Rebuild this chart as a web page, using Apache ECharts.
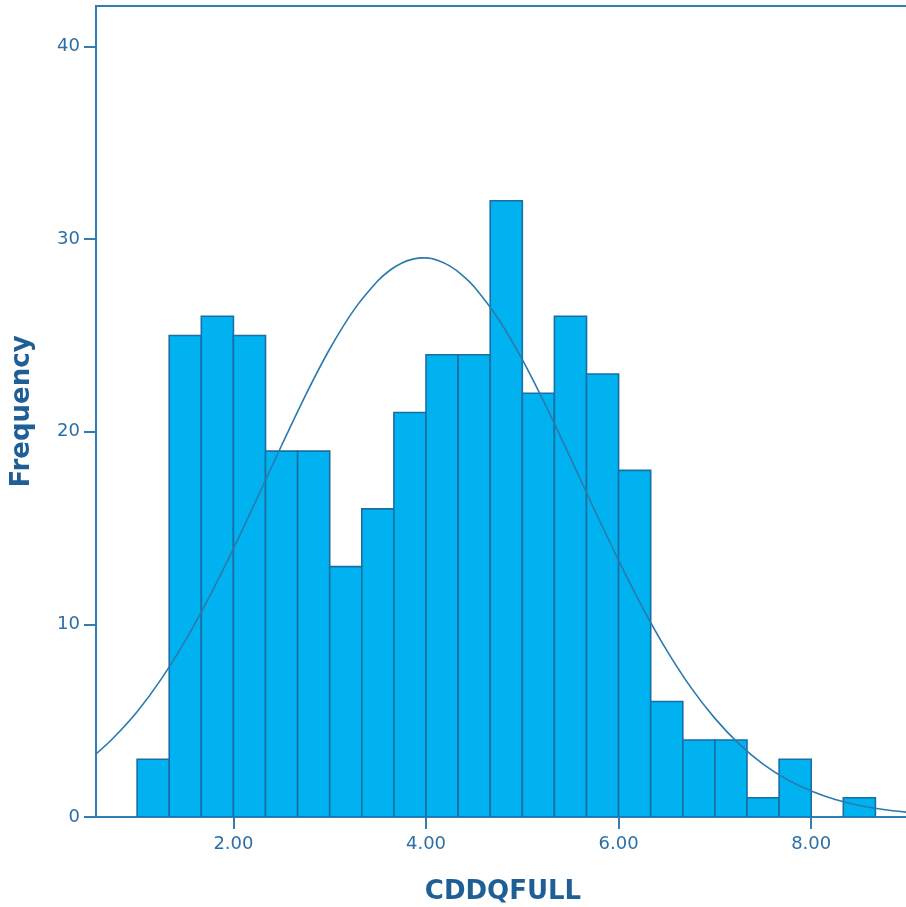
<!DOCTYPE html>
<html>
<head>
<meta charset="utf-8">
<script src="https://cdn.jsdelivr.net/npm/echarts@6/dist/echarts.min.js"></script>
<style>
html,body{margin:0;padding:0;background:#fff;}
#chart{width:906px;height:907px;}
</style>
</head>
<body>
<div id="chart"></div>
<script>
// Histogram bins (lower edge, upper edge) and frequencies
const binStarts = [1.0, 1.3333, 1.6667, 2.0, 2.3333, 2.6667, 3.0, 3.3333, 3.6667, 4.0, 4.3333, 4.6667, 5.0, 5.3333, 5.6667, 6.0, 6.3333, 6.6667, 7.0, 7.3333, 7.6667, 8.0, 8.3333];
const binEnds   = [1.3333, 1.6667, 2.0, 2.3333, 2.6667, 3.0, 3.3333, 3.6667, 4.0, 4.3333, 4.6667, 5.0, 5.3333, 5.6667, 6.0, 6.3333, 6.6667, 7.0, 7.3333, 7.6667, 8.0, 8.3333, 8.6667];
const frequencies = [3, 25, 26, 25, 19, 19, 13, 16, 21, 24, 24, 32, 22, 26, 23, 18, 6, 4, 4, 1, 3, 0, 1];

// Normal curve points
const curveX = [0.573, 0.75, 1.0, 1.25, 1.5, 1.75, 2.0, 2.25, 2.5, 2.75, 3.0, 3.25, 3.5, 3.625, 3.75, 3.875, 3.97, 4.0, 4.125, 4.25, 4.375, 4.5, 4.75, 5.0, 5.25, 5.5, 5.75, 6.0, 6.25, 6.5, 6.75, 7.0, 7.25, 7.5, 7.75, 8.0, 8.25, 8.5, 8.75, 9.03];
const curveY = [3.27, 4.09, 5.47, 7.16, 9.16, 11.43, 13.93, 16.59, 19.29, 21.91, 24.30, 26.32, 27.84, 28.39, 28.77, 28.98, 29.03, 29.03, 28.90, 28.60, 28.14, 27.53, 25.87, 23.75, 21.30, 18.65, 15.95, 13.32, 10.86, 8.65, 6.73, 5.12, 3.80, 2.75, 1.95, 1.35, 0.91, 0.60, 0.39, 0.23];

const xTicks = [2, 4, 6, 8];
const yTicks = [0, 10, 20, 30, 40];
const xTitle = 'CDDQFULL';
const yTitle = 'Frequency';

const axisColor = '#2F7DB4';
const labelColor = '#2C6FA6';
const titleColor = '#1F5F96';

const barData = binStarts.map((s, i) => [s, binEnds[i], frequencies[i]]);
const lineData = curveX.map((x, i) => [x, curveY[i]]);

const chart = echarts.init(document.getElementById('chart'), null, {renderer: 'canvas'});
chart.setOption({
  animation: false,
  backgroundColor: '#ffffff',
  grid: {
    left: 96, top: 6, width: 814, height: 811,
    outerBoundsMode: 'none',
    containLabel: false,
    show: true, borderColor: axisColor, borderWidth: 2, backgroundColor: '#ffffff'
  },
  xAxis: {
    type: 'value',
    min: 0.573, max: 9.026,
    name: xTitle,
    nameLocation: 'middle',
    nameGap: 62,
    nameTextStyle: {fontFamily: 'DejaVu Sans', fontWeight: 'bold', fontSize: 26, color: titleColor},
    splitLine: {show: false},
    axisLine: {show: true, lineStyle: {color: axisColor, width: 2}},
    axisTick: {show: true, length: 12, lineStyle: {color: axisColor, width: 2}, customValues: xTicks},
    axisLabel: {
      customValues: xTicks,
      margin: 18,
      fontFamily: 'DejaVu Sans', fontSize: 18, color: labelColor,
      formatter: v => Number(v).toFixed(2)
    }
  },
  yAxis: {
    type: 'value',
    min: 0, max: 42.11,
    name: yTitle,
    nameLocation: 'middle',
    nameGap: 61,
    nameRotate: 90,
    nameTextStyle: {fontFamily: 'DejaVu Sans', fontWeight: 'bold', fontSize: 26, color: titleColor},
    splitLine: {show: false},
    axisLine: {show: true, lineStyle: {color: axisColor, width: 2}},
    axisTick: {show: true, length: 12, lineStyle: {color: axisColor, width: 2}, customValues: yTicks},
    axisLabel: {
      customValues: yTicks,
      margin: 16,
      fontFamily: 'DejaVu Sans', fontSize: 18, color: labelColor
    }
  },
  series: [
    {
      type: 'custom',
      data: barData,
      encode: {x: [0, 1], y: 2},
      clip: true,
      renderItem: function (params, api) {
        const x0 = api.value(0), x1 = api.value(1), h = api.value(2);
        if (h <= 0) return null;
        const p0 = api.coord([x0, h]);
        const p1 = api.coord([x1, 0]);
        return {
          type: 'rect',
          shape: {x: p0[0], y: p0[1], width: p1[0] - p0[0], height: p1[1] - p0[1]},
          style: {fill: '#00B2EF', stroke: '#1A6EA4', lineWidth: 1.6}
        };
      },
      z: 2
    },
    {
      type: 'line',
      data: lineData,
      smooth: 0.3,
      showSymbol: false,
      symbol: 'none',
      lineStyle: {color: '#2A7AAE', width: 1.6},
      z: 3
    }
  ]
});
</script>
</body>
</html>
